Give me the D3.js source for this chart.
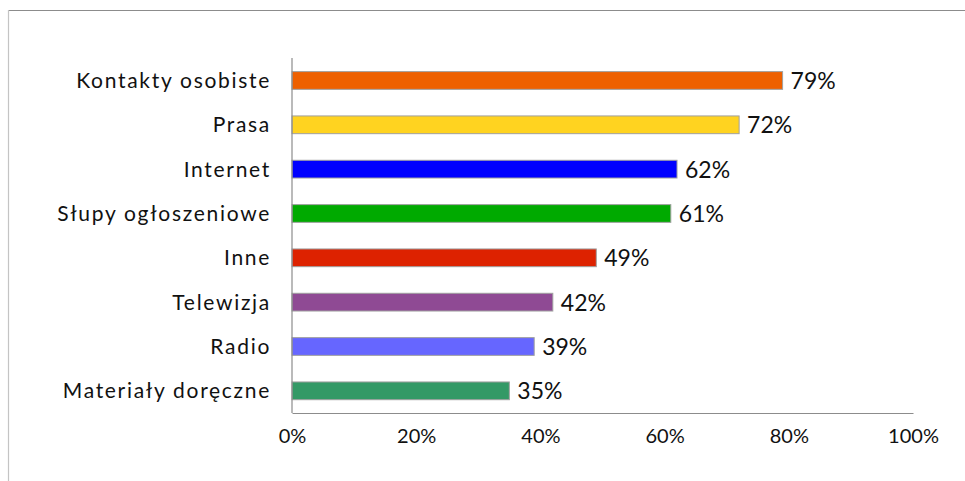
<!DOCTYPE html>
<html>
<head>
<meta charset="utf-8">
<script src="https://cdn.jsdelivr.net/npm/d3@7"></script>
<style>
  body { margin: 0; background: #fff; }
  svg { display: block; }
</style>
</head>
<body>
<svg width="965" height="481"></svg>
<script>
const categories = ['Kontakty osobiste', 'Prasa', 'Internet', 'Słupy ogłoszeniowe',
  'Inne', 'Telewizja', 'Radio', 'Materiały doręczne'];
const values = [79, 72, 62, 61, 49, 42, 39, 35];
const colors = ['#ee6000', '#ffd320', '#0000ff', '#00aa00',
  '#dd2200', '#8f4a94', '#6666ff', '#339966'];
const ticks = [0, 20, 40, 60, 80, 100];

const svg = d3.select('svg');
const font = 'Lato, "Open Sans", sans-serif';

// chart frame (only top and left edges fall inside the picture)
svg.append('line')
    .attr('x1', 8).attr('x2', 965).attr('y1', 10.5).attr('y2', 10.5)
    .attr('stroke', '#8c8c8c').attr('stroke-width', 1.2);
svg.append('line')
    .attr('x1', 8.5).attr('x2', 8.5).attr('y1', 10).attr('y2', 481)
    .attr('stroke', '#c4c4c4').attr('stroke-width', 1.2);

const x = d3.scaleLinear().domain([0, 100]).range([292, 913]);
const y = d3.scaleBand().domain(categories).range([58.3, 413]).paddingInner(0.6).paddingOuter(0.3);

// bars
svg.append('g')
  .selectAll('rect')
  .data(values)
  .join('rect')
    .attr('x', x(0))
    .attr('y', (d, i) => y(categories[i]))
    .attr('width', d => x(d) - x(0))
    .attr('height', y.bandwidth())
    .attr('fill', (d, i) => colors[i])
    .attr('stroke', '#a0a0a0')
    .attr('stroke-width', 1);

// axes
const xAxis = svg.append('g')
    .attr('transform', 'translate(0,413)')
    .call(d3.axisBottom(x).tickValues(ticks).tickSize(0).tickPadding(16).tickFormat(d => d + '%'));
xAxis.select('.domain').attr('stroke', '#8c8c8c').attr('stroke-width', 1.2);
xAxis.selectAll('text')
    .attr('font-family', font).attr('font-size', 20).attr('fill', '#111');

const yAxis = svg.append('g')
    .attr('transform', 'translate(292,0)')
    .call(d3.axisLeft(y).tickSize(0).tickPadding(21));
yAxis.select('.domain').attr('stroke', '#8c8c8c').attr('stroke-width', 1.2)
    .attr('d', 'M0,58V413');
yAxis.selectAll('text')
    .attr('font-family', font).attr('font-size', 21).attr('letter-spacing', 1.7)
    .attr('fill', '#111').attr('dy', '0.36em');

// data labels
svg.append('g')
  .selectAll('text')
  .data(values)
  .join('text')
    .attr('x', d => x(d) + 8)
    .attr('y', (d, i) => y(categories[i]) + y.bandwidth() / 2)
    .attr('dy', '0.37em')
    .attr('font-family', font)
    .attr('font-size', 23)
    .attr('fill', '#111')
    .text(d => d + '%');
</script>
</body>
</html>
